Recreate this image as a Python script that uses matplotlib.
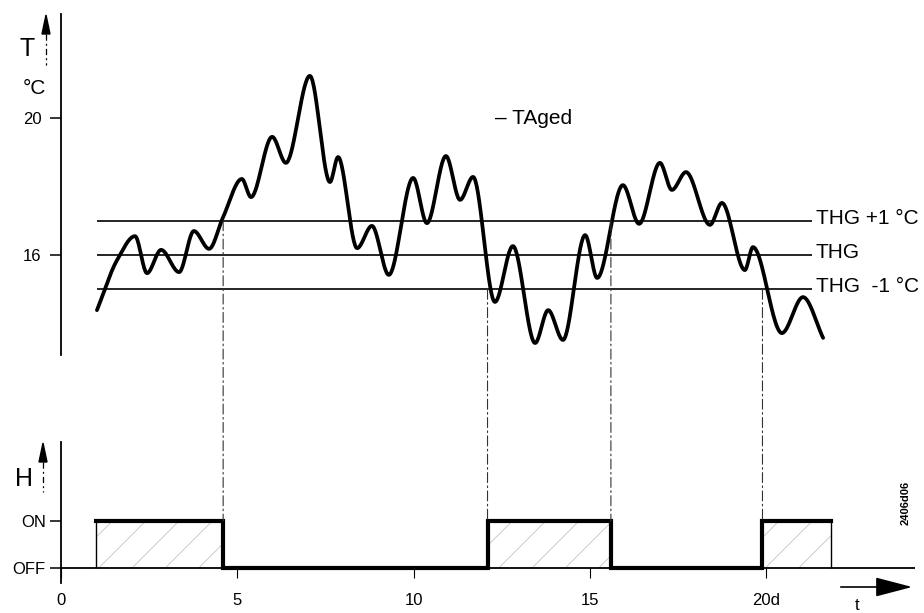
import matplotlib
matplotlib.use("Agg")
import matplotlib.pyplot as plt
from matplotlib.patches import ConnectionPatch
import numpy as np

plt.rcParams["font.family"] = ["Liberation Sans", "DejaVu Sans"]
plt.rcParams["hatch.linewidth"] = 0.6

# ---------------------------------------------------------------------------
# Data (t in days, T in degC)
# ---------------------------------------------------------------------------
t_days = [1.02, 1.59, 2.10, 2.44, 2.84, 3.35, 3.77, 4.20, 4.60, 5.13, 5.39,
          5.99, 6.38, 7.06, 7.63, 7.86, 8.40, 8.82, 9.30, 9.99, 10.38, 10.92,
          11.32, 11.69, 12.31, 12.82, 13.45, 13.82, 14.24, 14.87, 15.21,
          15.94, 16.40, 16.99, 17.33, 17.73, 18.41, 18.75, 19.40, 19.63,
          20.45, 21.05, 21.62]
temp_c = [14.39, 15.85, 16.55, 15.47, 16.15, 15.50, 16.70, 16.18, 17.11,
          18.22, 17.69, 19.45, 18.69, 21.23, 18.13, 18.86, 16.20, 16.85,
          15.42, 18.25, 16.93, 18.89, 17.61, 18.28, 14.63, 16.26, 13.43,
          14.39, 13.52, 16.58, 15.33, 18.04, 16.91, 18.69, 17.90, 18.42,
          16.88, 17.52, 15.56, 16.23, 13.72, 14.77, 13.58]

thg = 16.0
hysteresis = 1.0
thg_span = (1.02, 21.3)
thg_labels = ["THG +1 \u00b0C", "THG", "THG  -1 \u00b0C"]

y_ticks = [16, 20]
x_ticks = [0, 5, 10, 15, 20]
x_tick_labels = ["0", "5", "10", "15", "20d"]

heat_on_start = [1.0, 12.1, 19.9]
heat_on_end = [4.6, 15.6, 21.85]
# switching events: (time, threshold crossed)
switch_times = [4.6, 12.1, 15.6, 19.9]
switch_levels = [thg + hysteresis, thg - hysteresis, thg + hysteresis, thg - hysteresis]

OFF, ON = 0, 1

# ---------------------------------------------------------------------------
# Layout helpers (reference pixels, origin top-left)
# ---------------------------------------------------------------------------
W, H = 924, 613
PX_PER_DAY = 35.25
X0 = 61


def fig_xy(x, y):
    return x / W, 1 - y / H


def pchip(x, y, xs):
    """Shape-preserving cubic through the read points (for a smooth pen line)."""
    x = np.asarray(x, float)
    y = np.asarray(y, float)
    h = np.diff(x)
    d = np.diff(y) / h
    m = np.zeros_like(y)
    m[0], m[-1] = d[0], d[-1]
    for k in range(1, len(x) - 1):
        if d[k - 1] * d[k] > 0:
            w1 = 2 * h[k] + h[k - 1]
            w2 = h[k] + 2 * h[k - 1]
            m[k] = (w1 + w2) / (w1 / d[k - 1] + w2 / d[k])
    idx = np.clip(np.searchsorted(x, xs) - 1, 0, len(x) - 2)
    s = (xs - x[idx]) / h[idx]
    h00 = 2 * s**3 - 3 * s**2 + 1
    h10 = s**3 - 2 * s**2 + s
    h01 = -2 * s**3 + 3 * s**2
    h11 = s**3 - s**2
    return (h00 * y[idx] + h10 * h[idx] * m[idx]
            + h01 * y[idx + 1] + h11 * h[idx] * m[idx + 1])


fig = plt.figure(figsize=(W / 100, H / 100), dpi=100)
fig.patch.set_facecolor("white")

xmax = (W - X0) / PX_PER_DAY

# upper panel: temperature
top_px, bot_px = 14, 355
ax1 = fig.add_axes([X0 / W, 1 - bot_px / H, (W - X0) / W, (bot_px - top_px) / H])
ax1.set_xlim(0, xmax)
ax1.set_ylim(16 - (bot_px - 255) / 34.25, 16 + (255 - top_px) / 34.25)

# lower panel: heating state
ltop_px, lbot_px = 442, 583
ax2 = fig.add_axes([X0 / W, 1 - lbot_px / H, (W - X0) / W, (lbot_px - ltop_px) / H])
ax2.set_xlim(0, xmax)
ax2.set_ylim(-(lbot_px - 568) / 47, (568 - ltop_px) / 47)

for ax in (ax1, ax2):
    for side in ("top", "right", "bottom"):
        ax.spines[side].set_visible(False)
    ax.spines["left"].set_linewidth(1.3)
    ax.patch.set_alpha(0)

ax1.set_xticks([])
ax1.set_yticks(y_ticks)
ax1.set_yticklabels([str(v) for v in y_ticks], fontsize=12)
ax1.tick_params(axis="y", direction="out", length=8, width=1.1, pad=6)

ax2.spines["bottom"].set_position(("data", OFF))
ax2.set_xticks(x_ticks)
ax2.set_xticklabels(x_tick_labels, fontsize=12)
ax2.tick_params(axis="x", direction="out", length=7, width=0.8, pad=11)
ax2.set_yticks([OFF, ON])
ax2.set_yticklabels(["OFF", "ON"], fontsize=12)
ax2.tick_params(axis="y", direction="out", length=8, width=1.1, pad=3)

# temperature curve
ts = np.linspace(t_days[0], t_days[-1], 1200)
ax1.plot(ts, pchip(t_days, temp_c, ts), color="black", lw=2.7,
         solid_capstyle="round")

# THG lines and labels
for off, lab in zip((hysteresis, 0, -hysteresis), thg_labels):
    ax1.hlines(thg + off, thg_span[0], thg_span[1], color="black", lw=1.2)
    ax1.text((816 - X0) / PX_PER_DAY, thg + off + 0.07, lab, fontsize=15,
             ha="left", va="center", clip_on=False)

ax1.text((495 - X0) / PX_PER_DAY, 20.0, "\u2013 TAged", fontsize=15,
         ha="left", va="center")

# heating bars
for a, b in zip(heat_on_start, heat_on_end):
    ax2.fill_between([a, b], OFF, ON, facecolor="white", edgecolor="#c4c4c4",
                     hatch="/", lw=0)
    ax2.vlines(a, OFF, ON, color="black", lw=1.0)
    ax2.vlines(b, OFF, ON, color="black", lw=1.0)

step_t, step_h = [heat_on_start[0]], [ON]
for i, t in enumerate(switch_times):
    state = ON if i % 2 == 0 else OFF
    step_t += [t, t]
    step_h += [state, 1 - state]
step_t.append(heat_on_end[-1])
step_h.append(ON)
ax2.plot(step_t, step_h, color="black", lw=3.0, solid_joinstyle="miter")
ax2.hlines(OFF, 0, (915 - X0) / PX_PER_DAY, color="black", lw=1.3, zorder=1)

# dash-dot switching guides between panels
for t, lvl in zip(switch_times, switch_levels):
    con = ConnectionPatch(xyA=(t, lvl), coordsA=ax1.transData,
                          xyB=(t, ON), coordsB=ax2.transData,
                          color="#333333", lw=0.8, linestyle=(0, (9, 3, 1.5, 3)))
    fig.add_artist(con)

# axis names with small arrows
dash = (0, (5, 2.5, 1.5, 2.5))
for name, unit, (tx, ty), (ax_x, tip, base, dend) in (
        ("T", "\u00b0C", (27, 49), (46, 15, 34, 65)),
        ("H", None, (24, 479), (43, 443, 462, 492))):
    fig.text(*fig_xy(tx, ty), name, fontsize=18, ha="center", va="center")
    fig.add_artist(plt.Line2D([ax_x / W, ax_x / W], [1 - base / H, 1 - dend / H],
                              color="black", lw=0.9, linestyle=dash))
    fig.add_artist(plt.Polygon([fig_xy(ax_x, tip), fig_xy(ax_x - 4, base),
                                fig_xy(ax_x + 4, base)], closed=True,
                               color="black", transform=fig.transFigure))
    if unit:
        fig.text(*fig_xy(34, 89), unit, fontsize=15, ha="center", va="center")

# time arrow
ax2.annotate("", xy=fig_xy(915, 587), xytext=fig_xy(838, 587),
             xycoords="figure fraction", textcoords="figure fraction",
             arrowprops=dict(arrowstyle="-|>,head_length=1.15,head_width=0.3",
                             mutation_scale=20, color="black", lw=1.2))
fig.text(*fig_xy(857, 605), "t", fontsize=12, ha="center", va="center")

fig.text(*fig_xy(906, 503), "2406d06", fontsize=8, rotation=90,
         ha="center", va="center", fontweight="bold")

fig.savefig("out.png", dpi=100)
